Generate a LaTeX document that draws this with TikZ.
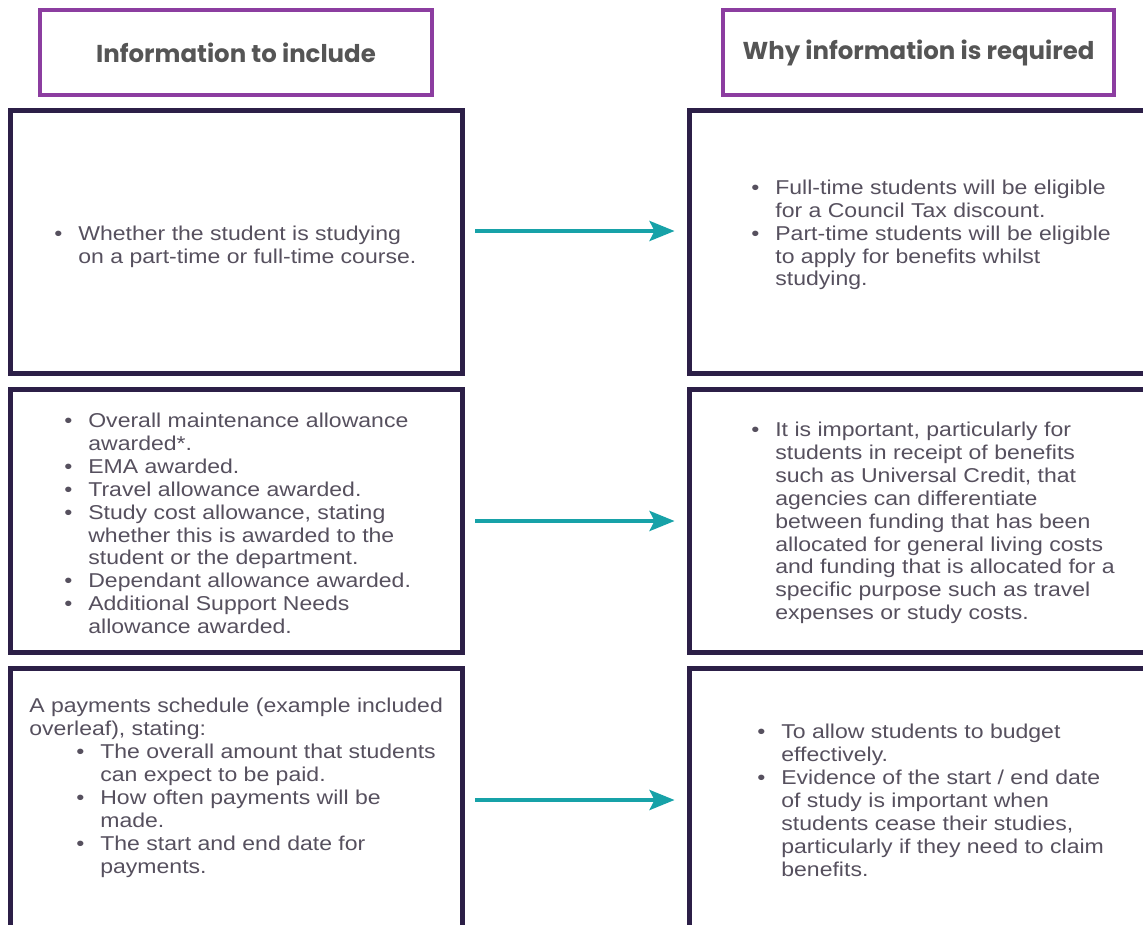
\documentclass[tikz,border=0pt]{standalone}
\usepackage{fontspec}
\setmainfont[FakeStretch=1.15]{Liberation Sans}
\newfontfamily\headfont{Poppins}
\usetikzlibrary{arrows.meta,positioning}

\definecolor{bodygray}{HTML}{56505E}
\definecolor{headgray}{HTML}{555555}
\definecolor{headpurple}{HTML}{8C3DA0}
\definecolor{boxdark}{HTML}{2C1F47}
\definecolor{flowteal}{HTML}{17A2A8}

\newcommand{\itm}{\makebox[0.48cm][l]{\textbullet}}
\newcommand{\cnt}{\hspace*{0.48cm}}
\newcommand{\lst}[1]{\begin{tabular}[t]{@{}l@{}}#1\end{tabular}}

\tikzstyle{heading} = [draw=headpurple, line width=0.08cm, minimum width=7.84cm, minimum height=1.7cm, font=\headfont\bfseries\fontsize{13.9pt}{16pt}\selectfont, text=headgray]
\tikzstyle{panel} = [draw=boxdark, line width=0.1cm, minimum height=5.28cm]
\tikzstyle{txt} = [anchor=base west, inner sep=0pt, text=bodygray, font=\fontsize{11.4pt}{13.09pt}\selectfont]
\tikzstyle{flow} = [-{Stealth[length=0.5cm, width=0.4cm, inset=0.1cm]}, draw=flowteal, line width=0.08cm, shorten <=0.2cm, shorten >=0.24cm]

\begin{document}
\begin{tikzpicture}[x=0.02cm, y=-0.02cm]
\useasboundingbox (0,0) rectangle (1143,924);
   % column headings
   \node (IncludeHead) at (236,52.5) [heading] {Information to include};
   \node (WhyHead) at (918.5,52.5) [heading] {Why information is required};

   % left column
   \node (StudyBox) at (236.5,242) [panel, minimum width=9.06cm] {};
   \node (AllowBox) at (236.5,521) [panel, minimum width=9.06cm] {};
   \node (ScheduleBox) at (236.5,800) [panel, minimum width=9.06cm] {};

   % right column
   \node (StudyWhy) at (924.5,242) [panel, minimum width=9.42cm] {};
   \node (AllowWhy) at (924.5,521) [panel, minimum width=9.42cm] {};
   \node (ScheduleWhy) at (924.5,800) [panel, minimum width=9.42cm] {};

   \node (StudyText) at (54,240) [txt] {\lst{\itm Whether the student is studying\\
      \cnt on a part-time or full-time course.}};
   \node (StudyWhyText) at (751,194) [txt] {\lst{\itm Full-time students will be eligible\\
      \cnt for a Council Tax discount.\\
      \itm Part-time students will be eligible\\
      \cnt to apply for benefits whilst\\
      \cnt studying.}};

   \node (AllowText) at (64,427) [txt] {\lst{\itm Overall maintenance allowance\\
      \cnt awarded*.\\
      \itm EMA awarded.\\
      \itm Travel allowance awarded.\\
      \itm Study cost allowance, stating\\
      \cnt whether this is awarded to the\\
      \cnt student or the department.\\
      \itm Dependant allowance awarded.\\
      \itm Additional Support Needs\\
      \cnt allowance awarded.}};
   \node (AllowWhyText) at (751,436) [txt] {\lst{\itm It is important, particularly for\\
      \cnt students in receipt of benefits\\
      \cnt such as Universal Credit, that\\
      \cnt agencies can differentiate\\
      \cnt between funding that has been\\
      \cnt allocated for general living costs\\
      \cnt and funding that is allocated for a\\
      \cnt specific purpose such as travel\\
      \cnt expenses or study costs.}};

   \node (ScheduleText) at (29,712) [txt] {\lst{A payments schedule (example included\\
      overleaf), stating:\\
      \hspace*{0.94cm}\itm The overall amount that students\\
      \hspace*{0.94cm}\cnt can expect to be paid.\\
      \hspace*{0.94cm}\itm How often payments will be\\
      \hspace*{0.94cm}\cnt made.\\
      \hspace*{0.94cm}\itm The start and end date for\\
      \hspace*{0.94cm}\cnt payments.}};
   \node (ScheduleWhyText) at (757,738) [txt] {\lst{\itm To allow students to budget\\
      \cnt effectively.\\
      \itm Evidence of the start / end date\\
      \cnt of study is important when\\
      \cnt students cease their studies,\\
      \cnt particularly if they need to claim\\
      \cnt benefits.}};

   \draw[flow] ([yshift=0.22cm]StudyBox.east) -- ([yshift=0.22cm]StudyWhy.west);
   \draw[flow] (AllowBox) -- (AllowWhy);
   \draw[flow] (ScheduleBox) -- (ScheduleWhy);
\end{tikzpicture}
\end{document}
